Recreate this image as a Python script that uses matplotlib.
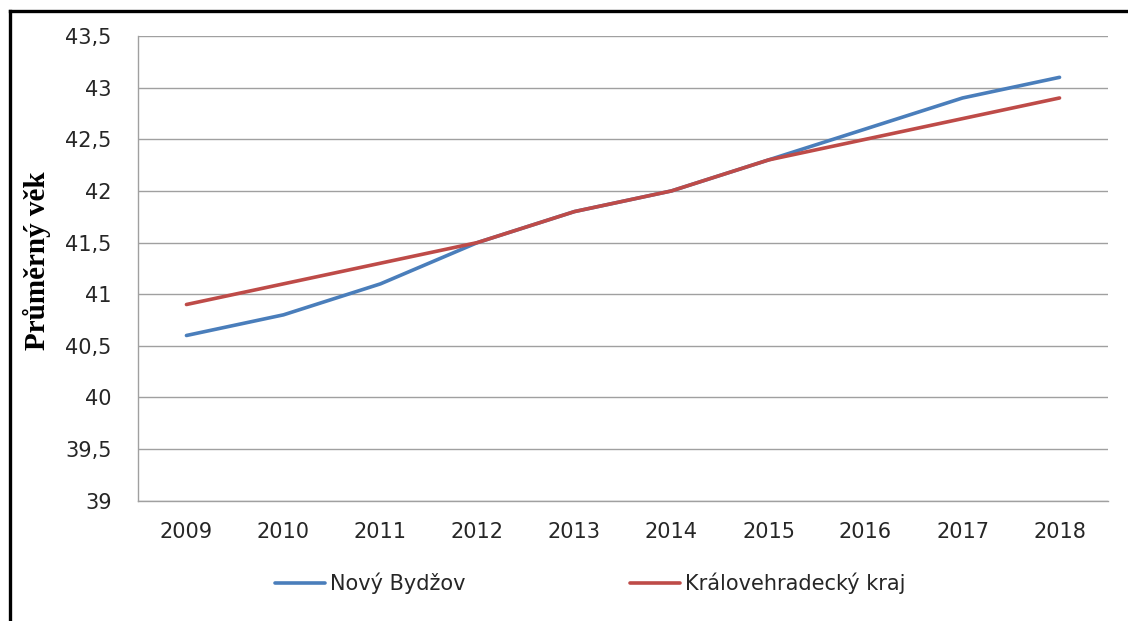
import numpy as np
import matplotlib
matplotlib.use("Agg")
import matplotlib.pyplot as plt
from matplotlib.lines import Line2D
from matplotlib.ticker import FuncFormatter, MultipleLocator

# data
years = ["2009", "2010", "2011", "2012", "2013", "2014", "2015", "2016", "2017", "2018"]
novy_bydzov = [40.6, 40.8, 41.1, 41.5, 41.8, 42.0, 42.3, 42.6, 42.9, 43.1]
kralovehradecky = [40.9, 41.1, 41.3, 41.5, 41.8, 42.0, 42.3, 42.5, 42.7, 42.9]

BLUE = "#4a7ebb"
RED = "#be4b48"
GRID = "#a0a0a0"

plt.rcParams["font.family"] = ["DejaVu Sans"]

fig = plt.figure(figsize=(11.28, 6.21), dpi=100)
ax = fig.add_axes([0.1223, 0.1937, 0.8600, 0.7483])

x = np.arange(len(years))
ax.plot(x, novy_bydzov, color=BLUE, linewidth=2.6, solid_capstyle="round",
        label="Nový Bydžov")
ax.plot(x, kralovehradecky, color=RED, linewidth=2.6, solid_capstyle="round",
        label="Královehradecký kraj")

ax.set_xlim(-0.5, len(years) - 0.5)
ax.set_ylim(39, 43.5)
ax.yaxis.set_major_locator(MultipleLocator(0.5))
ax.yaxis.set_major_formatter(FuncFormatter(lambda v, _: f"{v:g}".replace(".", ",")))
ax.set_xticks(x)
ax.set_xticklabels(years)

ax.grid(True, axis="y", color=GRID, linewidth=1.0)
ax.set_axisbelow(True)
for side in ("top", "right"):
    ax.spines[side].set_visible(False)
for side in ("left", "bottom"):
    ax.spines[side].set_color(GRID)
    ax.spines[side].set_linewidth(1.0)

ax.tick_params(axis="both", length=0, labelsize=15, colors="#262626")
ax.tick_params(axis="y", pad=19)
ax.tick_params(axis="x", pad=15)

fig.text(0.033, 0.58, "Průměrný věk", rotation=90, ha="center", va="center",
         family="Liberation Serif", fontweight="bold", fontsize=21)

fig.legend(loc="center", bbox_to_anchor=(0.5235, 0.061), ncol=2, frameon=False,
           fontsize=15, handlelength=2.4, handletextpad=0.24,
           columnspacing=7.9, labelcolor="#262626")

# outer frame (top and left edges visible in the crop)
fig.add_artist(Line2D([0.0088, 0.0088], [0.0, 0.982], color="black",
                      linewidth=2.4, transform=fig.transFigure))
fig.add_artist(Line2D([0.0088, 1.0], [0.982, 0.982], color="black",
                      linewidth=2.4, transform=fig.transFigure))

fig.savefig("out.png", dpi=100)
